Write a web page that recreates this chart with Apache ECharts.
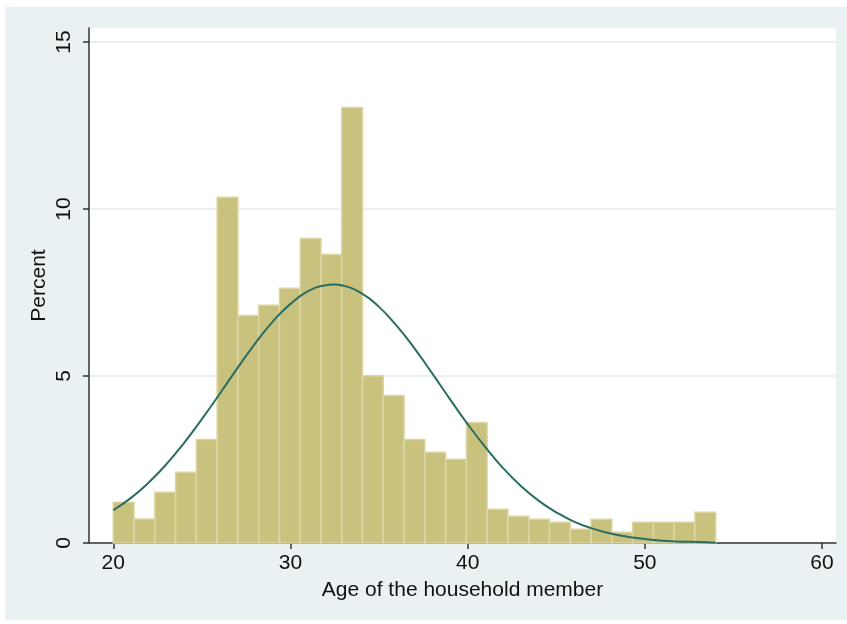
<!DOCTYPE html>
<html>
<head>
<meta charset="utf-8">
<script src="https://cdn.jsdelivr.net/npm/echarts@6/dist/echarts.min.js"></script>
<style>
  html, body { margin: 0; padding: 0; background: #ffffff; }
  #chart { position: absolute; left: 5px; top: 7px; width: 842px; height: 613px; }
</style>
</head>
<body>
<div id="chart"></div>
<script>
// histogram bins: 29 bins of equal width from 20 to 54
const binStart = 20;
const binWidth = 34 / 29;
const percents = [
  1.22, 0.72, 1.52, 2.12, 3.10, 10.35, 6.81, 7.12, 7.63, 9.12,
  8.64, 13.04, 5.01, 4.42, 3.10, 2.72, 2.51, 3.61, 1.01, 0.80,
  0.71, 0.62, 0.41, 0.71, 0.32, 0.62, 0.62, 0.62, 0.92
];

// normal curve (peak near 32.4)
const curveX = [20, 21, 22, 23, 24, 25, 26, 27, 28, 29, 30, 31, 32, 32.4, 33, 34, 35, 36,
  37, 38, 39, 40, 41, 42, 43, 44, 45, 46, 47, 48, 49, 50, 51, 52, 53, 54];
const curveY = [0.98, 1.35, 1.81, 2.36, 3.00, 3.71, 4.46, 5.23, 5.97, 6.63, 7.16, 7.54,
  7.72, 7.74, 7.70, 7.48, 7.07, 6.50, 5.83, 5.08, 4.31, 3.56, 2.87, 2.24, 1.71, 1.27, 0.92,
  0.64, 0.44, 0.29, 0.19, 0.12, 0.07, 0.04, 0.03, 0.01];

const xTicks = [20, 30, 40, 50, 60];
const yTicks = [0, 5, 10, 15];

const font = "'Liberation Sans', Arial, Helvetica, sans-serif";

const chart = echarts.init(document.getElementById('chart'));

let bars = [];
for (let i = 0; i < percents.length; i++) {
  bars.push([binStart + i * binWidth, binStart + (i + 1) * binWidth, percents[i]]);
}
let curve = [];
for (let i = 0; i < curveX.length; i++) {
  curve.push([curveX[i], curveY[i]]);
}

const option = {
  backgroundColor: '#e9f1f3',
  animation: false,
  grid: {
    left: 84, right: 11, top: 21, bottom: 77,
    show: true, backgroundColor: '#ffffff', borderWidth: 0
  },
  xAxis: {
    type: 'value',
    min: 18.63, max: 60.79,
    name: 'Age of the household member',
    nameLocation: 'middle',
    nameGap: 37,
    nameMoveOverlap: false,
    nameTextStyle: { fontFamily: font, fontSize: 21, color: '#111' },
    axisLine: { show: true, onZero: false, lineStyle: { color: '#333', width: 1.5 } },
    axisTick: { show: true, customValues: xTicks, length: 6, lineStyle: { color: '#333', width: 1.5 } },
    axisLabel: { customValues: xTicks, margin: 10, fontFamily: font, fontSize: 21, color: '#111' },
    splitLine: { show: false }
  },
  yAxis: {
    type: 'value',
    min: 0, max: 15.42,
    name: 'Percent',
    nameLocation: 'middle',
    nameRotate: 90,
    nameGap: 39,
    nameMoveOverlap: false,
    nameTextStyle: { fontFamily: font, fontSize: 21, color: '#111' },
    axisLine: { show: true, lineStyle: { color: '#333', width: 1.5 } },
    axisTick: { show: true, customValues: yTicks, length: 6, lineStyle: { color: '#333', width: 1.5 } },
    axisLabel: { customValues: yTicks, rotate: 90, margin: 14, fontFamily: font, fontSize: 21, color: '#111' },
    splitLine: { show: true, lineStyle: { color: '#e4edef', width: 1.5 } }
  },
  series: [
    {
      type: 'custom',
      data: bars,
      encode: { x: [0, 1], y: 2 },
      renderItem: (params, api) => {
        const p0 = api.coord([api.value(0), api.value(2)]);
        const p1 = api.coord([api.value(1), 0]);
        return {
          type: 'rect',
          shape: { x: p0[0], y: p0[1], width: p1[0] - p0[0], height: p1[1] - p0[1] },
          style: { fill: '#c9c27f', stroke: '#ddd6a3', lineWidth: 1.5 }
        };
      },
      z: 2
    },
    {
      type: 'line',
      data: curve,
      smooth: true,
      showSymbol: false,
      lineStyle: { color: '#2b6d62', width: 2 },
      z: 3
    }
  ]
};

chart.setOption(option);
</script>
</body>
</html>
